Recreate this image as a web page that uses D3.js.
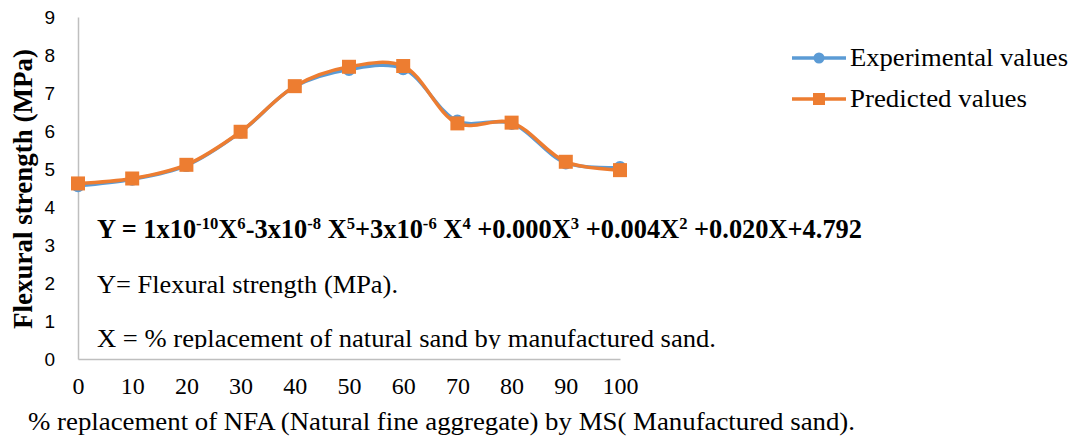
<!DOCTYPE html>
<html>
<head>
<meta charset="utf-8">
<script src="https://cdn.jsdelivr.net/npm/d3@7"></script>
<style>
  html, body { margin: 0; padding: 0; background: #ffffff; }
  svg { display: block; }
</style>
</head>
<body>
<script>
// Flexural strength vs. % replacement of natural fine aggregate by manufactured sand
const categories = [0, 10, 20, 30, 40, 50, 60, 70, 80, 90, 100];
const experimental = [4.56, 4.73, 5.09, 5.97, 7.17, 7.62, 7.64, 6.26, 6.20, 5.16, 5.04];
const predicted = [4.62, 4.75, 5.11, 5.98, 7.18, 7.69, 7.71, 6.20, 6.22, 5.19, 4.97];
const yTicks = [0, 1, 2, 3, 4, 5, 6, 7, 8, 9];
const seriesNames = ["Experimental values", "Predicted values"];
const seriesColors = ["#5B9BD5", "#ED7D31"];

const SERIF = '"Liberation Serif", "Times New Roman", serif';
const SANS = '"Liberation Sans", Arial, sans-serif';

const W = 1075, H = 438;
const svg = d3.select("body").append("svg").attr("width", W).attr("height", H);

const x = d3.scaleLinear().domain([0, 100]).range([78, 620]);
const y = d3.scaleLinear().domain([0, 9]).range([359, 17]);

// Axes
const xAxis = svg.append("g").attr("transform", `translate(0,${y(0)})`)
  .call(d3.axisBottom(x).tickValues(categories).tickSize(0).tickSizeOuter(0).tickPadding(18));
xAxis.select(".domain").attr("stroke", "#BFBFBF").attr("stroke-width", 1.5);
xAxis.selectAll("text").style("font-family", SERIF).style("font-size", "24px").attr("fill", "#000");

const yAxis = svg.append("g").attr("transform", `translate(${x(0)},0)`)
  .call(d3.axisLeft(y).tickValues(yTicks).tickSize(0).tickSizeOuter(0).tickPadding(23));
yAxis.select(".domain").attr("stroke", "#BFBFBF").attr("stroke-width", 1.5);
yAxis.selectAll("text").style("font-family", SANS).style("font-size", "19px").attr("fill", "#000");

// Series lines (smoothed) and markers
const line = d3.line()
  .x((d, i) => x(categories[i]))
  .y(d => y(d))
  .curve(d3.curveCatmullRom.alpha(0.5));

svg.append("path").datum(experimental)
  .attr("d", line).attr("fill", "none")
  .attr("stroke", seriesColors[0]).attr("stroke-width", 3.5).attr("stroke-linejoin", "round");
svg.append("g").selectAll("circle").data(experimental).join("circle")
  .attr("cx", (d, i) => x(categories[i])).attr("cy", d => y(d)).attr("r", 6.5)
  .attr("fill", seriesColors[0]);

svg.append("path").datum(predicted)
  .attr("d", line).attr("fill", "none")
  .attr("stroke", seriesColors[1]).attr("stroke-width", 3.5).attr("stroke-linejoin", "round");
const sq = 14;
svg.append("g").selectAll("rect").data(predicted).join("rect")
  .attr("x", (d, i) => x(categories[i]) - sq / 2).attr("y", d => y(d) - sq / 2)
  .attr("width", sq).attr("height", sq).attr("fill", seriesColors[1]);

// Legend
const legend = svg.append("g");
const legendRows = [58, 99];
seriesNames.forEach((name, i) => {
  const g = legend.append("g").attr("transform", `translate(0,${legendRows[i]})`);
  g.append("line").attr("x1", 792).attr("x2", 846).attr("y1", 0).attr("y2", 0)
    .attr("stroke", seriesColors[i]).attr("stroke-width", 3.5);
  if (i === 0) {
    g.append("circle").attr("cx", 819).attr("cy", 0).attr("r", 5.5).attr("fill", seriesColors[i]);
  } else {
    g.append("rect").attr("x", 813).attr("y", -6).attr("width", 12).attr("height", 12).attr("fill", seriesColors[i]);
  }
  g.append("text").attr("x", 850).attr("y", 8)
    .style("font-family", SERIF).style("font-size", "25px").attr("fill", "#000")
    .attr("textLength", i === 0 ? 218 : 177).attr("lengthAdjust", "spacingAndGlyphs")
    .text(name);
});

// Axis titles
svg.append("text")
  .attr("transform", "translate(32,189) rotate(-90)")
  .attr("text-anchor", "middle")
  .style("font-family", SERIF).style("font-weight", "bold").style("font-size", "28px").attr("fill", "#000")
  .attr("textLength", 280).attr("lengthAdjust", "spacingAndGlyphs")
  .text("Flexural strength (MPa)");

svg.append("text")
  .attr("x", 28).attr("y", 430)
  .style("font-family", SERIF).style("font-size", "25px").attr("fill", "#000")
  .attr("textLength", 827).attr("lengthAdjust", "spacingAndGlyphs")
  .text("% replacement of NFA (Natural fine aggregate) by MS( Manufactured sand).");

// Regression equation text box
svg.append("clipPath").attr("id", "eqbox")
  .append("rect").attr("x", 88).attr("y", 195).attr("width", 800).attr("height", 154);
const box = svg.append("g").attr("clip-path", "url(#eqbox)");

const eq = box.append("text").attr("x", 97).attr("y", 238)
  .style("font-family", SERIF).style("font-weight", "bold").style("font-size", "27px").attr("fill", "#000")
  .attr("textLength", 765).attr("lengthAdjust", "spacingAndGlyphs");
const eqParts = [
  ["Y = 1x10", 0], ["-10", 1], ["X", 0], ["6", 1], ["-3x10", 0], ["-8", 1], [" X", 0], ["5", 1],
  ["+3x10", 0], ["-6", 1], [" X", 0], ["4", 1], [" +0.000X", 0], ["3", 1], [" +0.004X", 0], ["2", 1],
  [" +0.020X+4.792", 0]
];
eqParts.forEach(([t, sup]) => {
  eq.append("tspan")
    .style("font-size", sup ? "17px" : "27px")
    .attr("baseline-shift", sup ? "super" : null)
    .text(t);
});

box.append("text").attr("x", 97).attr("y", 293)
  .style("font-family", SERIF).style("font-size", "26px").attr("fill", "#000")
  .attr("textLength", 301).attr("lengthAdjust", "spacingAndGlyphs")
  .text("Y= Flexural strength (MPa).");

box.append("text").attr("x", 97).attr("y", 347)
  .style("font-family", SERIF).style("font-size", "26px").attr("fill", "#000")
  .attr("textLength", 619).attr("lengthAdjust", "spacingAndGlyphs")
  .text("X = % replacement of natural sand by manufactured sand.");
</script>
</body>
</html>
